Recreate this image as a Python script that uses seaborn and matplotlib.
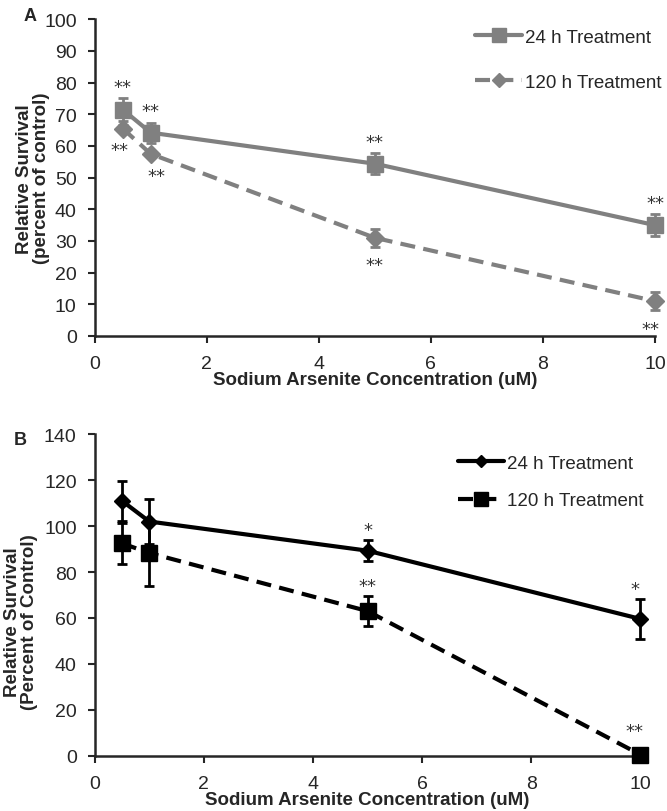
import numpy as np
import pandas as pd
import matplotlib
matplotlib.use("Agg")
import matplotlib.pyplot as plt
import seaborn as sns

# data
conc = [0.5, 1, 5, 10]

a_24h = [71.5, 64.2, 54.4, 35.0]
a_24h_err = [3.5, 3.2, 3.3, 3.5]
a_120h = [65.5, 57.5, 31.0, 11.0]
a_120h_err = [1.0, 1.0, 2.8, 2.8]
a_24h_stars = ["**", "**", "**", "**"]
a_120h_stars = ["**", "**", "**", "**"]

b_24h = [111.0, 102.0, 89.3, 59.6]
b_24h_err = [8.8, 9.6, 4.6, 8.6]
b_120h = [92.5, 88.3, 63.0, 0.5]
b_120h_err = [9.0, 14.5, 6.6, 0.0]
b_24h_stars = ["", "", "*", "*"]
b_120h_stars = ["", "", "**", "**"]

labels = ["24 h Treatment", "120 h Treatment"]

sns.set_style("ticks")
plt.rcParams['font.family'] = ['Liberation Sans', 'DejaVu Sans']

fig = plt.figure(figsize=(6.67, 8.12), dpi=100)
ax_a = fig.add_axes([0.142, 0.585, 0.840, 0.390])
ax_b = fig.add_axes([0.142, 0.068, 0.818, 0.396])

DASH = (3.6, 2.0)


def draw_panel(ax, y1, e1, y2, e2, colour, m1, m2, ms1, ms2, lw):
    df = pd.DataFrame({
        "conc": conc * 2,
        "surv": y1 + y2,
        "group": [labels[0]] * 4 + [labels[1]] * 4,
    })
    sns.lineplot(data=df, x="conc", y="surv", hue="group", style="group",
                 palette=[colour, colour], dashes=[(1, 0), DASH],
                 markers=[m1, m2], markersize=0, linewidth=lw, ax=ax,
                 markeredgewidth=0, legend=False)
    ax.errorbar(conc, y1, yerr=e1, fmt=m1, color=colour, markersize=ms1,
                capsize=3.5, elinewidth=2, capthick=2, zorder=5, clip_on=False)
    ax.errorbar(conc, y2, yerr=e2, fmt=m2, color=colour, markersize=ms2,
                capsize=3.5, elinewidth=2, capthick=2, zorder=5, clip_on=False)
    h1 = plt.Line2D([], [], color=colour, lw=lw, marker=m1, markersize=ms1 * 0.8)
    h2 = plt.Line2D([], [], color=colour, lw=lw, ls=(0, DASH), marker=m2,
                    markersize=ms2 * 0.8)
    ax.set_xlim(0, 10)
    ax.set_xticks([0, 2, 4, 6, 8, 10])
    ax.tick_params(labelsize=14, width=1.5, length=5)
    ax.tick_params(axis="x", pad=9)
    ax.tick_params(axis="y", pad=8)
    for s in ["left", "bottom"]:
        ax.spines[s].set_linewidth(1.8)
    sns.despine(ax=ax)
    ax.set_xlabel("Sodium Arsenite Concentration (uM)", fontsize=13.5,
                  fontweight="bold", labelpad=-1)
    return [h1, h2]


def stars(ax, ys, errs, marks, above, gaps, dxs):
    for x, y, e, s, gap, dx in zip(conc, ys, errs, marks, gaps, dxs):
        if above:
            ax.text(x + dx, y + e + gap, s, ha="center", va="bottom",
                    fontsize=13, family="DejaVu Sans", color="#333333")
        else:
            ax.text(x + dx, y - e - gap, s, ha="center", va="top",
                    fontsize=13, family="DejaVu Sans", color="#333333")


handles_a = draw_panel(ax_a, a_24h, a_24h_err, a_120h, a_120h_err, "#808080",
                       "s", "D", 12, 9, 3.0)
ax_a.set_ylim(0, 100)
ax_a.set_yticks(range(0, 101, 10))
ax_a.set_ylabel("Relative Survival\n(percent of control)", fontsize=13.5,
                fontweight="bold", linespacing=1.0)
ax_a.yaxis.set_label_coords(-0.079, 0.5)
ax_a.legend(handles_a, labels, frameon=False, fontsize=13.5,
            handlelength=2.5, handletextpad=0.15, labelspacing=1.5,
            loc="upper right", bbox_to_anchor=(1.025, 0.995), borderaxespad=0.0)

stars(ax_a, a_24h, a_24h_err, a_24h_stars, True, [0.8] * 4, [0, 0, 0, 0])
stars(ax_a, a_120h, a_120h_err, a_120h_stars, False, [3.0] * 4,
      [-0.05, 0.1, 0, -0.08])

handles_b = draw_panel(ax_b, b_24h, b_24h_err, b_120h, b_120h_err, "black",
                       "D", "s", 8, 12, 3.0)
ax_b.set_ylim(0, 140)
ax_b.set_yticks(range(0, 141, 20))
ax_b.set_ylabel("Relative Survival\n(Percent of Control)", fontsize=13.5,
                fontweight="bold", linespacing=1.0)
ax_b.yaxis.set_label_coords(-0.104, 0.42)
ax_b.legend(handles_b, labels, frameon=False, fontsize=13.5,
            handlelength=2.5, handletextpad=0.15, labelspacing=1.1,
            loc="upper right", bbox_to_anchor=(1.02, 0.96), borderaxespad=0.0)

stars(ax_b, b_24h, b_24h_err, b_24h_stars, True, [0.5] * 4, [0, 0, 0, -0.1])
stars(ax_b, b_120h, b_120h_err, b_120h_stars, True, [0.5, 0.5, 0.5, 6.5],
      [0, 0, 0, -0.1])

fig.text(0.036, 0.980, "A", fontsize=13, fontweight="bold", va="center")
fig.text(0.021, 0.458, "B", fontsize=13, fontweight="bold", va="center")

fig.savefig("out.png", dpi=100)
